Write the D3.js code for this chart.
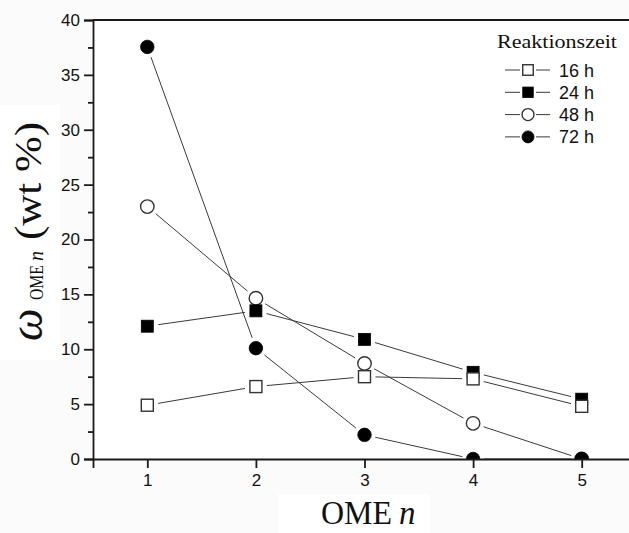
<!DOCTYPE html>
<html><head><meta charset="utf-8">
<script src="https://cdn.jsdelivr.net/npm/d3@7"></script>
<style>
html,body{margin:0;padding:0;background:#fbfbfb;}
svg{display:block;}
</style></head>
<body>
<svg id="c" width="629" height="533"></svg>
<script>
// ---- data ----
const categories = [1, 2, 3, 4, 5];
const s16h = [4.9, 6.6, 7.5, 7.3, 4.8];
const s24h = [12.1, 13.5, 10.9, 7.9, 5.45];
const s48h = [23.0, 14.65, 8.7, 3.25, 0];
const s72h = [37.55, 10.1, 2.2, 0, 0];
const seriesNames = ["16 h", "24 h", "48 h", "72 h"];
const yTickValues = [0, 5, 10, 15, 20, 25, 30, 35, 40];
const yMinorTicks = [2.5, 7.5, 12.5, 17.5, 22.5, 27.5, 32.5, 37.5];
const legendTitle = "Reaktionszeit";

const series = [
  {name: seriesNames[0], values: s16h, shape: "square", filled: false},
  {name: seriesNames[1], values: s24h, shape: "square", filled: true},
  {name: seriesNames[2], values: s48h, shape: "circle", filled: false},
  {name: seriesNames[3], values: s72h, shape: "circle", filled: true}
];

const svg = d3.select("#c");
const pLeft = 93, pTop = 20, pBottom = 459, pRight = 636;
const x = d3.scaleLinear().domain([0.5, 5.5]).range([pLeft, pRight]);
const y = d3.scaleLinear().domain([0, 40]).range([pBottom, pTop]);

// white boxes behind labels
svg.append("rect").attr("x", 0).attr("y", 105).attr("width", 60).attr("height", 255).attr("fill", "#fff");
svg.append("rect").attr("x", 278).attr("y", 494).attr("width", 152).attr("height", 39).attr("fill", "#fff");
// plot area
svg.append("rect").attr("x", pLeft).attr("y", pTop).attr("width", pRight - pLeft).attr("height", pBottom - pTop).attr("fill", "#fff");

svg.append("clipPath").attr("id", "clip").append("rect")
  .attr("x", pLeft).attr("y", pTop).attr("width", pRight - pLeft).attr("height", pBottom - pTop);

const plot = svg.append("g").attr("clip-path", "url(#clip)");

const lineColor = "#3a3a3a";
const gap = 11;
const drawOrder = [2, 3, 1, 0];

function marker(g, shape, filled, cx, cy, size) {
  if (shape === "square") {
    g.append("rect").attr("x", cx - size / 2).attr("y", cy - size / 2)
      .attr("width", size).attr("height", size)
      .attr("fill", filled ? "#000" : "#fff")
      .attr("stroke", filled ? "#000" : "#333").attr("stroke-width", filled ? 0.8 : 1.4);
  } else {
    g.append("circle").attr("cx", cx).attr("cy", cy).attr("r", size / 2)
      .attr("fill", filled ? "#000" : "#fff")
      .attr("stroke", filled ? "#000" : "#333").attr("stroke-width", filled ? 0.8 : 1.4);
  }
}

// lines with gaps
series.forEach(s => {
  const pts = categories.map((c, i) => [x(c), y(s.values[i])]);
  for (let i = 0; i < pts.length - 1; i++) {
    const [x0, y0] = pts[i], [x1, y1] = pts[i + 1];
    const dx = x1 - x0, dy = y1 - y0, L = Math.hypot(dx, dy);
    if (L <= 2 * gap) continue;
    const ux = dx / L, uy = dy / L;
    plot.append("path")
      .attr("d", d3.line()([[x0 + ux * gap, y0 + uy * gap], [x1 - ux * gap, y1 - uy * gap]]))
      .attr("stroke", lineColor).attr("stroke-width", 1).attr("fill", "none");
  }
});
// markers
drawOrder.forEach(k => {
  const s = series[k];
  categories.forEach((c, i) => {
    marker(plot, s.shape, s.filled, x(c), y(s.values[i]), s.shape === "square" ? 12 : 13.5);
  });
});

// axes
const axisColor = "#1a1a1a";
svg.append("g").attr("transform", `translate(${pLeft},0)`)
  .call(d3.axisLeft(y).tickValues(yTickValues).tickSize(9).tickPadding(4).tickFormat(d3.format("d")));
svg.append("g").attr("transform", `translate(${pLeft},0)`)
  .call(d3.axisLeft(y).tickValues(yMinorTicks).tickSize(5).tickFormat(""))
  .call(g => g.select(".domain").remove());
svg.append("g").attr("transform", `translate(0,${pBottom})`)
  .call(d3.axisBottom(x).tickValues(categories).tickSize(9).tickPadding(6).tickFormat(d3.format("d")));
svg.selectAll(".domain, .tick line").attr("stroke", axisColor).attr("stroke-width", 1.8);
svg.selectAll(".tick text").attr("font-family", "Liberation Sans, Arial, sans-serif")
  .attr("font-size", 17).attr("fill", "#111");
// top frame line
svg.append("path").attr("d", d3.line()([[pLeft, y(40)], [pRight, y(40)]]))
  .attr("stroke", axisColor).attr("stroke-width", 1.8);

// x label
const xl = svg.append("text").attr("x", 321).attr("y", 524)
  .attr("font-family", "Liberation Serif, serif").attr("font-size", 33).attr("fill", "#111");
xl.append("tspan").text("OME").attr("textLength", 71).attr("lengthAdjust", "spacingAndGlyphs");
xl.append("tspan").attr("x", 399).attr("font-style", "italic").text("n");

// y label
const yl = svg.append("g").attr("transform", "translate(42,343) rotate(-90)")
  .attr("font-family", "Liberation Serif, serif").attr("fill", "#111");
yl.append("text").attr("x", 2).attr("y", 0).attr("font-size", 46).attr("font-style", "italic").text("ω");
yl.append("text").attr("x", 43).attr("y", 1).attr("font-size", 19)
  .attr("textLength", 35).attr("lengthAdjust", "spacingAndGlyphs").text("OME");
yl.append("text").attr("x", 82).attr("y", 1).attr("font-size", 20).attr("font-style", "italic").text("n");
yl.append("text").attr("x", 103).attr("y", -1).attr("font-size", 38)
  .attr("textLength", 118).attr("lengthAdjust", "spacingAndGlyphs").text("(wt %)");

// legend
const lg = svg.append("g");
lg.append("text").attr("x", 497).attr("y", 48).attr("font-family", "Liberation Serif, serif")
  .attr("font-size", 19).attr("fill", "#111")
  .attr("textLength", 120).attr("lengthAdjust", "spacingAndGlyphs").text(legendTitle);
series.forEach((s, i) => {
  const cy = 70 + i * 22.3;
  lg.append("path").attr("d", d3.line()([[505, cy], [520, cy]])).attr("stroke", lineColor).attr("stroke-width", 1);
  lg.append("path").attr("d", d3.line()([[536, cy], [550, cy]])).attr("stroke", lineColor).attr("stroke-width", 1);
  marker(lg, s.shape, s.filled, 528, cy, s.shape === "square" ? 10.5 : 12);
  lg.append("text").attr("x", 559).attr("y", cy + 6.5).attr("font-family", "Liberation Sans, Arial, sans-serif")
    .attr("font-size", 18).attr("fill", "#111").text(s.name);
});
</script>
</body></html>
